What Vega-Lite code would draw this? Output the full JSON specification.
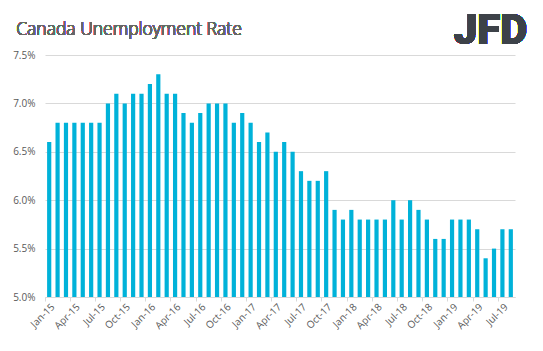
{
  "$schema": "https://vega.github.io/schema/vega-lite/v6.json",
  "width": 470,
  "height": 242,
  "autosize": "none",
  "padding": {"left": 45, "top": 55, "right": 28, "bottom": 54},
  "background": "white",
  "config": {
    "view": {"stroke": null},
    "font": "Open Sans"
  },
  "data": {
    "values": [
      {"m": "Jan-15", "v": 6.6}, {"m": "Feb-15", "v": 6.8}, {"m": "Mar-15", "v": 6.8}, {"m": "Apr-15", "v": 6.8},
      {"m": "May-15", "v": 6.8}, {"m": "Jun-15", "v": 6.8}, {"m": "Jul-15", "v": 6.8}, {"m": "Aug-15", "v": 7.0},
      {"m": "Sep-15", "v": 7.1}, {"m": "Oct-15", "v": 7.0}, {"m": "Nov-15", "v": 7.1}, {"m": "Dec-15", "v": 7.1},
      {"m": "Jan-16", "v": 7.2}, {"m": "Feb-16", "v": 7.3}, {"m": "Mar-16", "v": 7.1}, {"m": "Apr-16", "v": 7.1},
      {"m": "May-16", "v": 6.9}, {"m": "Jun-16", "v": 6.8}, {"m": "Jul-16", "v": 6.9}, {"m": "Aug-16", "v": 7.0},
      {"m": "Sep-16", "v": 7.0}, {"m": "Oct-16", "v": 7.0}, {"m": "Nov-16", "v": 6.8}, {"m": "Dec-16", "v": 6.9},
      {"m": "Jan-17", "v": 6.8}, {"m": "Feb-17", "v": 6.6}, {"m": "Mar-17", "v": 6.7}, {"m": "Apr-17", "v": 6.5},
      {"m": "May-17", "v": 6.6}, {"m": "Jun-17", "v": 6.5}, {"m": "Jul-17", "v": 6.3}, {"m": "Aug-17", "v": 6.2},
      {"m": "Sep-17", "v": 6.2}, {"m": "Oct-17", "v": 6.3}, {"m": "Nov-17", "v": 5.9}, {"m": "Dec-17", "v": 5.8},
      {"m": "Jan-18", "v": 5.9}, {"m": "Feb-18", "v": 5.8}, {"m": "Mar-18", "v": 5.8}, {"m": "Apr-18", "v": 5.8},
      {"m": "May-18", "v": 5.8}, {"m": "Jun-18", "v": 6.0}, {"m": "Jul-18", "v": 5.8}, {"m": "Aug-18", "v": 6.0},
      {"m": "Sep-18", "v": 5.9}, {"m": "Oct-18", "v": 5.8}, {"m": "Nov-18", "v": 5.6}, {"m": "Dec-18", "v": 5.6},
      {"m": "Jan-19", "v": 5.8}, {"m": "Feb-19", "v": 5.8}, {"m": "Mar-19", "v": 5.8}, {"m": "Apr-19", "v": 5.7},
      {"m": "May-19", "v": 5.4}, {"m": "Jun-19", "v": 5.5}, {"m": "Jul-19", "v": 5.7}, {"m": "Aug-19", "v": 5.7}
    ]
  },
  "layer": [
    {
      "mark": {"type": "bar", "color": "#00b2d9"},
      "encoding": {
        "x": {
          "field": "m",
          "type": "ordinal",
          "sort": null,
          "scale": {"paddingInner": 0.5, "paddingOuter": 0.25},
          "axis": {
            "title": null,
            "values": ["Jan-15","Apr-15","Jul-15","Oct-15","Jan-16","Apr-16","Jul-16","Oct-16","Jan-17","Apr-17","Jul-17","Oct-17","Jan-18","Apr-18","Jul-18","Oct-18","Jan-19","Apr-19","Jul-19"],
            "bandPosition": -0.5,
            "labelOffset": 4,
            "labelAngle": -45,
            "labelAlign": "right",
            "labelBaseline": "middle",
            "labelFontSize": 10,
            "labelColor": "#595959",
            "labelPadding": 4,
            "tickColor": "#d9d9d9",
            "tickSize": 4,
            "domainColor": "#d9d9d9",
            "grid": false
          }
        },
        "y": {
          "field": "v",
          "type": "quantitative",
          "scale": {"domain": [5, 7.5], "zero": false, "nice": false},
          "axis": {
            "title": null,
            "values": [5, 5.5, 6, 6.5, 7, 7.5],
            "labelExpr": "format(datum.value, '.1f') + '%'",
            "labelFontSize": 10,
            "labelColor": "#595959",
            "labelPadding": 10,
            "ticks": false,
            "domain": false,
            "gridColor": "#d9d9d9"
          }
        },
        "y2": {"datum": 5}
      }
    },
    {
      "mark": {"type": "text", "text": "Canada Unemployment Rate", "font": "Open Sans", "fontWeight": 300, "fontSize": 17.5, "color": "#666666", "align": "left", "baseline": "alphabetic", "dx": -33, "clip": false},
      "encoding": {
        "x": {"datum": "Jan-15", "type": "ordinal"},
        "y": {"datum": 7.71, "type": "quantitative"}
      }
    },
    {
      "mark": {"type": "text", "text": "JFD", "font": "Roboto", "fontWeight": 900, "fontSize": 42, "color": "#3d4249", "align": "center", "baseline": "alphabetic", "dx": 5, "clip": false},
      "encoding": {
        "x": {"datum": "May-19", "type": "ordinal"},
        "y": {"datum": 7.614, "type": "quantitative"}
      }
    }
  ]
}
